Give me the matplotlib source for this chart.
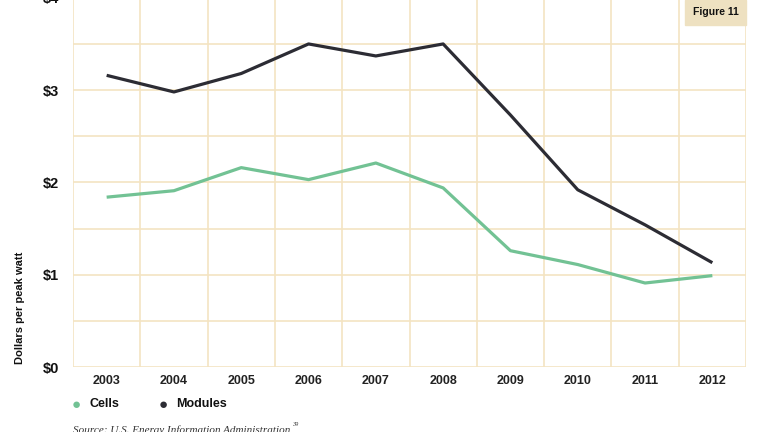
import matplotlib
matplotlib.use("Agg")
import matplotlib.pyplot as plt
from matplotlib.patches import Rectangle

# price of PV cells and modules, dollars per peak watt
years = [2003, 2004, 2005, 2006, 2007, 2008, 2009, 2010, 2011, 2012]
cells = [1.84, 1.91, 2.16, 2.03, 2.21, 1.94, 1.26, 1.11, 0.91, 0.99]
modules = [3.16, 2.98, 3.18, 3.50, 3.37, 3.50, 2.73, 1.92, 1.54, 1.13]
y_ticks = [0, 1, 2, 3, 4]
y_labels = ["$0", "$1", "$2", "$3", "$4"]

green = "#72c294"
dark = "#2c2c34"
grid = "#f4e4c2"

plt.rcParams["font.family"] = ["Liberation Sans", "DejaVu Sans"]

fig = plt.figure(figsize=(7.68, 4.32), dpi=100)
ax = fig.add_axes([73 / 768, 65 / 432, 673 / 768, 369.2 / 432])

ax.plot(years, modules, color=dark, lw=2.3, solid_capstyle="butt", zorder=3)
ax.plot(years, cells, color=green, lw=2.3, solid_capstyle="butt", zorder=3)

ax.set_xlim(2002.5, 2012.5)
ax.set_ylim(0, 4)

# grid lines between the years and at every 50 cents
for x in range(2002, 2013):
    ax.axvline(x + 0.5, color=grid, lw=1.2, zorder=1)
for y in [0.5 * i for i in range(9)]:
    ax.axhline(y, color=grid, lw=1.2, zorder=1)

ax.set_xticks(years)
ax.set_xticklabels([str(y) for y in years], fontsize=9, fontweight="bold", color="#222222")
ax.set_yticks(y_ticks)
ax.set_yticklabels(y_labels, fontsize=10.5, fontweight="bold", color="#111111")
ax.tick_params(length=0)
ax.tick_params(axis="x", pad=6)
ax.tick_params(axis="y", pad=10)
for s in ax.spines.values():
    s.set_visible(False)

fig.text(20 / 768, 1 - 308 / 432, "Dollars per peak watt", rotation=90,
         ha="center", va="center", fontsize=8, fontweight="bold", color="#111111")

# legend
fig.text(76 / 768, 1 - 405 / 432, "\u25cf", color=green, fontsize=11, ha="center", va="center")
fig.text(90 / 768, 1 - 404 / 432, "Cells", fontsize=9, fontweight="bold", va="center", color="#111111")
fig.text(163 / 768, 1 - 405 / 432, "\u25cf", color=dark, fontsize=11, ha="center", va="center")
fig.text(176 / 768, 1 - 404 / 432, "Modules", fontsize=9, fontweight="bold", va="center", color="#111111")

fig.text(73 / 768, 1 - 430 / 432, "Source: U.S. Energy Information Administration",
         fontsize=8, fontstyle="italic", family="Liberation Serif", color="#333333", va="center")
fig.text(292 / 768, 1 - 425 / 432, "39", fontsize=4.5, fontstyle="italic",
         family="Liberation Serif", color="#333333", va="center")

# figure label box
fig.patches.append(Rectangle((685 / 768, 1 - 25 / 432), 61 / 768, 25 / 432,
                             transform=fig.transFigure, color="#eee1c1", zorder=5))
fig.text(715.5 / 768, 1 - 12 / 432, "Figure 11", fontsize=7.5, fontweight="bold",
         ha="center", va="center", color="#111111", zorder=6)

fig.savefig("out.png", dpi=100)
